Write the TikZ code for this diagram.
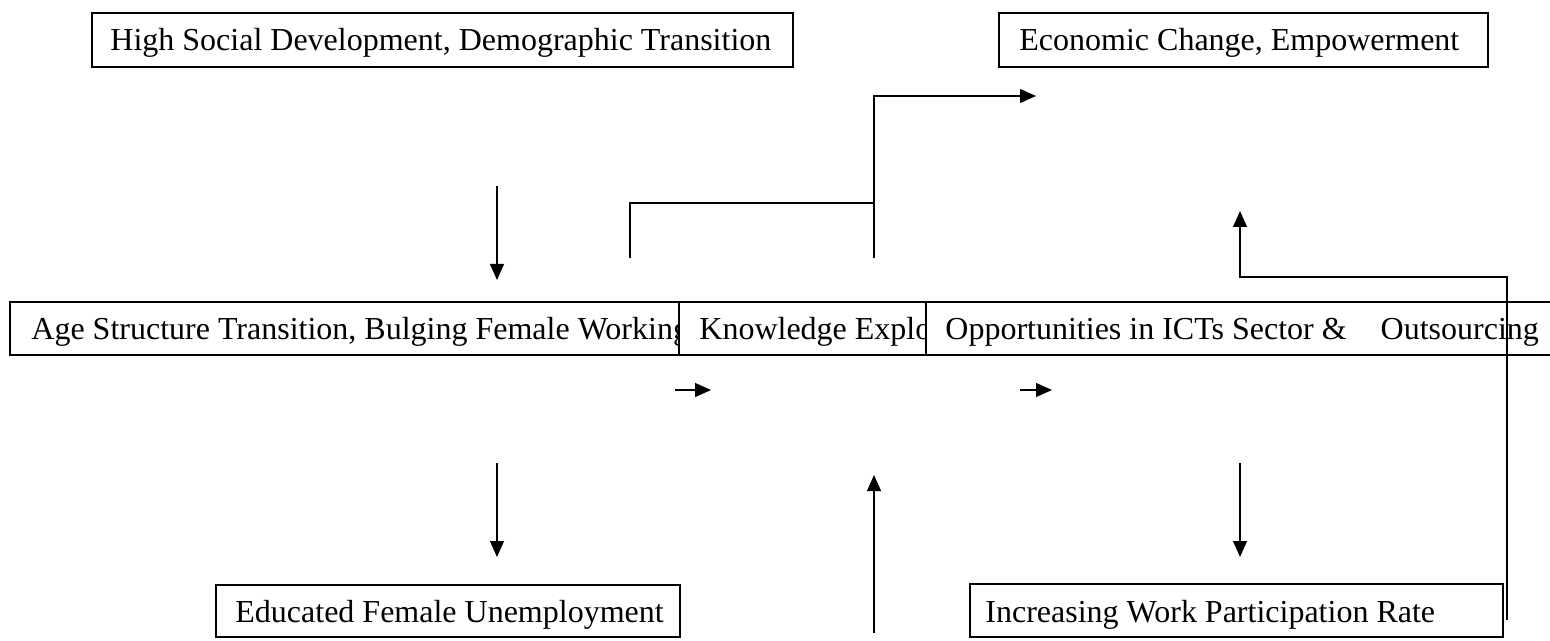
\documentclass[tikz,border=0pt]{standalone}
\usepackage{fontspec}
\setmainfont{Liberation Serif}
\usetikzlibrary{arrows.meta,fit}
\begin{document}
\begin{tikzpicture}[x=0.5pt,y=-0.5pt,
  boxrect/.style={draw, fill=white, inner sep=0pt, line width=0.6pt},
  boxtext/.style={anchor=base west, inner sep=0pt, font=\fontsize{16pt}{19pt}\selectfont},
  conn/.style={line width=0.6pt},
  arr/.style={conn, -{Triangle[length=8pt,width=7pt]}},
]
\useasboundingbox (0,0) rectangle (1550,641);

% top row
\node[boxrect, fit={(92,13) (793,67)}] (high) {};
\node[boxtext] (hightext) at (110,51) {High Social Development, Demographic Transition};
\node[boxrect, fit={(999,13) (1488,67)}] (econ) {};
\node[boxtext] (econtext) at (1019,51) {Economic Change, Empowerment};

% middle row: each box hides the overflow of the one before it
\node[boxrect, fit={(10,302) (679,355)}] (age) {};
\node[boxtext] (agetext) at (31,339) {Age Structure Transition, Bulging Female Working Age};
\node[boxrect, fit={(679,302) (926,355)}] (know) {};
\node[boxtext] (knowtext) at (699,339) {Knowledge Explosion};
\node[boxrect, fit={(926,302) (1570,355)}] (ict) {};
\node[boxtext] (icttext) at (945,339) {Opportunities in ICTs Sector \&\hspace{17pt}Outsourcing};

% bottom row
\node[boxrect, fit={(216,585) (680,637)}] (unemp) {};
\node[boxtext] (unemptext) at (235,622) {Educated Female Unemployment};
\node[boxrect, fit={(970,584) (1503,637)}] (wpr) {};
\node[boxtext] (wprtext) at (985,622) {Increasing Work Participation Rate};

% connector end points
\coordinate (a1s) at (497,186); \coordinate (a1e) at (497,280);
\coordinate (b1s) at (630,258); \coordinate (b1m) at (874,203);
\coordinate (b2s) at (874,258); \coordinate (b2e) at (1036,96);
\coordinate (c1s) at (1507,620); \coordinate (c1m) at (1507,277);
\coordinate (c1n) at (1240,277); \coordinate (c1e) at (1240,211);
\coordinate (d1s) at (675,390); \coordinate (d1e) at (711,390);
\coordinate (d2s) at (1020,390); \coordinate (d2e) at (1052,390);
\coordinate (e1s) at (497,463); \coordinate (e1e) at (497,557);
\coordinate (e2s) at (874,633); \coordinate (e2e) at (874,475);
\coordinate (e3s) at (1240,463); \coordinate (e3e) at (1240,557);

% connectors
\draw[arr] (a1s) -- (a1e);
\draw[conn] (b1s) |- (b1m);
\draw[arr] (b2s) |- (b2e);
\draw[arr] (c1s) -- (c1m) -- (c1n) -- (c1e);
\draw[arr] (d1s) -- (d1e);
\draw[arr] (d2s) -- (d2e);
\draw[arr] (e1s) -- (e1e);
\draw[arr] (e2s) -- (e2e);
\draw[arr] (e3s) -- (e3e);
\end{tikzpicture}
\end{document}
